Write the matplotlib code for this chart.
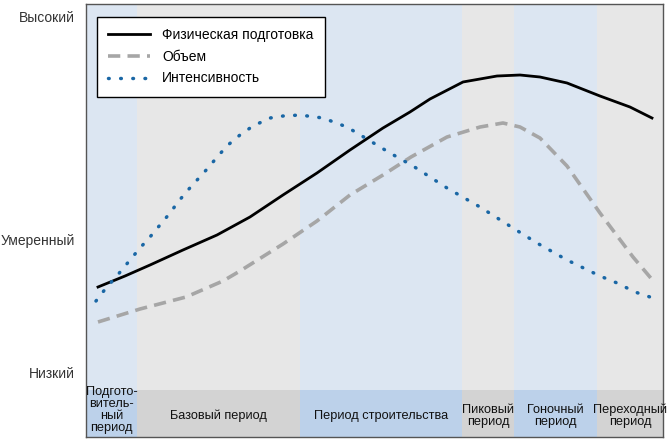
import matplotlib
matplotlib.use("Agg")
import matplotlib.pyplot as plt
from matplotlib.patches import Rectangle

plt.rcParams['font.family'] = ['Liberation Sans', 'DejaVu Sans']

# x: 0..100 across the plot, y: 0..100 from bottom to top
periodes = ["Подгото-\nвитель-\nный\nпериод", "Базовый период", "Период строительства",
            "Пиковый\nпериод", "Гоночный\nпериод", "Переходный\nпериод"]
bornes = [0, 8.8, 37.1, 65.2, 74.2, 88.6, 100]

niveaux = ["Низкий", "Умеренный", "Высокий"]
niveaux_y = [14.8, 45.5, 97.0]

phys_x = [2.08, 6.76, 11.09, 16.81, 22.70, 28.42, 34.14, 40.03, 45.75, 51.47, 56.15, 59.62,
          65.34, 71.23, 75.22, 78.68, 83.36, 89.08, 94.28, 98.09]
phys_y = [34.64, 37.18, 39.72, 43.19, 46.65, 50.81, 55.89, 60.97, 66.28, 71.36, 75.06, 78.06,
          81.99, 83.37, 83.60, 83.14, 81.76, 78.75, 76.21, 73.67]

vol_x = [2.08, 9.36, 17.33, 23.74, 26.69, 34.14, 40.03, 45.75, 51.47, 56.33, 62.56, 68.28,
         72.27, 75.22, 78.68, 83.36, 89.08, 94.80, 98.61]
vol_y = [26.56, 29.56, 32.33, 36.03, 38.34, 44.57, 49.88, 55.89, 60.51, 64.67, 69.28, 71.59,
         72.52, 71.59, 69.05, 62.59, 51.73, 41.57, 35.57]

int_x = [1.73, 3.47, 5.20, 7.63, 9.36, 11.09, 12.82, 14.56, 15.94, 17.68, 19.41, 21.14, 22.88,
         24.61, 26.69, 28.94, 31.89, 34.14, 37.09, 41.07, 45.23, 48.70, 52.69, 56.67, 62.56,
         68.28, 74.00, 78.16, 83.36, 89.08, 92.03, 95.15, 98.27]
int_y = [31.41, 34.41, 36.95, 40.88, 43.65, 46.19, 48.96, 51.73, 54.27, 57.04, 59.58, 62.12, 64.90,
         67.44, 69.75, 71.82, 73.67, 74.13, 74.36, 73.67, 71.59, 68.82, 65.59, 62.59, 57.51,
         53.12, 48.27, 44.80, 40.88, 37.18, 35.57, 33.49, 32.10]

fond_bleu = "#dce6f2"
fond_gris = "#e7e7e7"
bande_bleu = "#bcd1ea"
bande_gris = "#d3d3d3"

fig = plt.figure(figsize=(6.7, 4.42), dpi=100)
ax = fig.add_axes([86/670, 5/442, 577/670, 433/442])
ax.set_xlim(0, 100)
ax.set_ylim(0, 100)

haut_bande = 10.9
for i in range(len(periodes)):
    x0, x1 = bornes[i], bornes[i+1]
    bleu = i % 2 == 0
    ax.add_patch(Rectangle((x0, haut_bande), x1 - x0, 100 - haut_bande,
                           color=fond_bleu if bleu else fond_gris, lw=0, zorder=0))
    ax.add_patch(Rectangle((x0, 0), x1 - x0, haut_bande,
                           color=bande_bleu if bleu else bande_gris, lw=0, zorder=0))
    y_txt = 6.3 if i == 0 else 4.9
    ax.text((x0 + x1) / 2, y_txt, periodes[i], ha='center', va='center', fontsize=9.2,
            linespacing=1.0, color='#111111', zorder=3)

ax.plot(phys_x, phys_y, color='black', lw=2.0, label="Физическая подготовка", zorder=2)
ax.plot(vol_x, vol_y, color='#a6a6a6', lw=2.6, ls=(0, (3.4, 2)), label="Объем", zorder=2)
ax.plot(int_x, int_y, color='#1a67a5', lw=2.5, ls=(0, (0.2, 3.3)), dash_capstyle='round',
        label="Интенсивность", zorder=2)

ax.set_xticks([])
ax.set_yticks(niveaux_y)
ax.set_yticklabels(niveaux, fontsize=10, color='#333333')
ax.tick_params(axis='y', length=0, pad=8)
for s in ax.spines.values():
    s.set_color('#555555')
    s.set_linewidth(1.0)

leg = ax.legend(loc='upper left', bbox_to_anchor=(97/670, 1 - 17/442), bbox_transform=fig.transFigure,
                borderaxespad=0, fancybox=False, framealpha=1, edgecolor='black', fontsize=10,
                handlelength=3.0, borderpad=0.8, labelspacing=0.55, handletextpad=0.9)
leg.get_frame().set_linewidth(1.0)

fig.savefig("out.png", dpi=100)
